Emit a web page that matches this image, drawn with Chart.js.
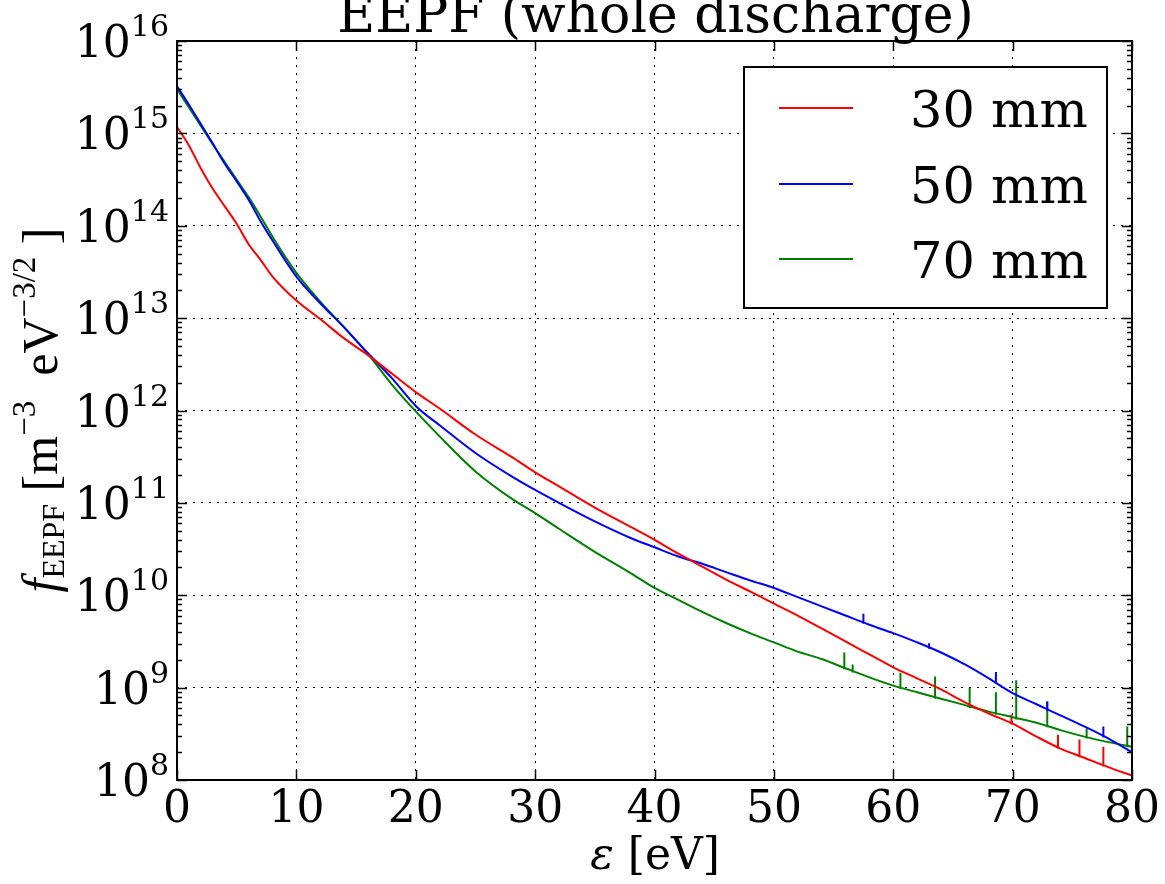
<!DOCTYPE html>
<html><head><meta charset="utf-8">
<script src="https://cdn.jsdelivr.net/npm/chart.js@4/dist/chart.umd.min.js"></script>
<style>html,body{margin:0;padding:0;background:#fff;}canvas{display:block;}</style>
</head><body>
<canvas id="c" width="1165" height="884"></canvas>
<script>
// ---- data ----
const energy = [0,1,2,3,4,5,6,7,8,10,12,14,16,18,20,22,25,28,30,32,35,38,40,42,44,46,48,50,52,54,56,58,60,62,64,66,68,70,72,74,76,78,80];
const f30mm = [1.17e15,7.41e14,4.17e14,2.51e14,1.62e14,1.05e14,6.31e13,4.27e13,2.82e13,1.55e13,9.77e12,6.03e12,3.98e12,2.51e12,1.58e12,1.05e12,5.50e11,3.16e11,2.14e11,1.51e11,8.91e10,5.50e10,3.98e10,2.82e10,2.04e10,1.48e10,1.10e10,8.13e9,6.03e9,4.37e9,3.16e9,2.29e9,1.66e9,1.26e9,9.55e8,6.92e8,5.25e8,4.07e8,2.95e8,2.19e8,1.74e8,1.38e8,1.12e8];
const f50mm = [3.24e15,2.04e15,1.26e15,7.76e14,4.68e14,3.02e14,1.91e14,1.12e14,6.92e13,2.82e13,1.45e13,7.94e12,4.17e12,2.24e12,1.12e12,6.92e11,3.47e11,1.95e11,1.38e11,1.00e11,6.31e10,4.17e10,3.31e10,2.63e10,2.19e10,1.78e10,1.45e10,1.20e10,9.55e9,7.59e9,6.03e9,4.79e9,3.89e9,3.09e9,2.40e9,1.78e9,1.26e9,8.71e8,6.61e8,5.01e8,3.80e8,2.82e8,2.00e8];
const f70mm = [3.02e15,1.91e15,1.20e15,7.59e14,4.90e14,3.16e14,2.04e14,1.26e14,7.59e13,3.09e13,1.51e13,7.94e12,4.07e12,1.91e12,9.77e11,5.25e11,2.19e11,1.12e11,7.76e10,5.25e10,2.95e10,1.74e10,1.20e10,8.91e9,6.61e9,5.01e9,3.89e9,3.09e9,2.45e9,2.04e9,1.62e9,1.29e9,1.05e9,8.91e8,7.59e8,6.46e8,5.50e8,4.79e8,4.17e8,3.47e8,2.95e8,2.57e8,2.29e8];

// narrow noise spikes visible in the picture: energy, peak value, foot value (on the curve)
const spikeE30 = [69.9,73.8,75.6,77.6];
const spikePeak30 = [5.13e8,3.09e8,2.75e8,2.29e8];
const spikeBase30 = [3.98e8,2.19e8,1.76e8,1.40e8];
const spikeE50 = [57.5,63.0,68.6,72.9,77.6];
const spikePeak50 = [6.31e9,3.02e9,1.48e9,7.08e8,3.80e8];
const spikeBase50 = [4.90e9,2.63e9,1.10e9,5.62e8,2.88e8];
const spikeE70 = [55.9,56.6,60.6,63.5,66.4,68.6,70.3,72.9,76.2,79.6];
const spikePeak70 = [2.40e9,1.78e9,1.45e9,1.32e9,1.00e9,8.91e8,1.20e9,7.08e8,3.63e8,3.80e8];
const spikeBase70 = [1.58e9,1.46e9,9.66e8,7.59e8,6.03e8,5.07e8,4.52e8,3.72e8,2.82e8,2.26e8];

const seriesLabels = ['30 mm','50 mm','70 mm'];
const seriesColors = ['#ff0000','#0000ff','#008000'];
const xTicks = [0,10,20,30,40,50,60,70,80];
const yDecades = [1e8,1e9,1e10,1e11,1e12,1e13,1e14,1e15,1e16];
const yExpLabels = ['8','9','10','11','12','13','14','15','16'];
const minorMult = [2,3,4,5,6,7,8,9];
const titleText = 'EEPF (whole discharge)';

const mainData = [f30mm, f50mm, f70mm].map(F => energy.map((e, i) => ({x: e, y: F[i]})));
// each spike is a short vertical segment; null breaks the line between spikes
function spikeData(sE, sP, sB) {
  const pts = [];
  sE.forEach((e, i) => { pts.push({x: e, y: sB[i]}, {x: e, y: sP[i]}, {x: e, y: null}); });
  return pts;
}
const spikeSets = [
  spikeData(spikeE30, spikePeak30, spikeBase30),
  spikeData(spikeE50, spikePeak50, spikeBase50),
  spikeData(spikeE70, spikePeak70, spikeBase70)
];

const SERIF = '"DejaVu Serif"';
const MATH = '"Liberation Serif"';

function line(ctx, x1, y1, x2, y2) { ctx.beginPath(); ctx.moveTo(x1, y1); ctx.lineTo(x2, y2); ctx.stroke(); }

function drawRich(ctx, segs, cx, by) {
  let total = 0;
  segs.forEach(s => { ctx.font = s.font; s.w = ctx.measureText(s.t).width; total += s.w; });
  let x = cx - total / 2;
  ctx.textAlign = 'left'; ctx.textBaseline = 'alphabetic';
  segs.forEach(s => { ctx.font = s.font; ctx.fillText(s.t, x, by + (s.dy || 0)); x += s.w; });
}

const decor = {
  id: 'decor',
  afterDraw(chart) {
    const {ctx, chartArea: a, scales: {x, y}} = chart;
    ctx.save();
    ctx.strokeStyle = '#000'; ctx.fillStyle = '#000';
    ctx.lineWidth = 1.5;
    yDecades.forEach((d, i) => {
      const py = Math.round(y.getPixelForValue(d)) + 0.5;
      line(ctx, a.left, py, a.left + 10, py); line(ctx, a.right, py, a.right - 10, py);
      if (i < yDecades.length - 1) {
        minorMult.forEach(m => {
          const q = Math.round(y.getPixelForValue(m * d)) + 0.5;
          line(ctx, a.left, q, a.left + 5, q); line(ctx, a.right, q, a.right - 5, q);
        });
      }
    });
    xTicks.forEach(v => {
      const px = Math.round(x.getPixelForValue(v)) + 0.5;
      line(ctx, px, a.bottom, px, a.bottom - 10); line(ctx, px, a.top, px, a.top + 10);
    });
    ctx.lineWidth = 2;
    ctx.strokeRect(a.left, a.top, a.right - a.left, a.bottom - a.top);

    yDecades.forEach((d, i) => {
      const py = y.getPixelForValue(d);
      ctx.textAlign = 'right'; ctx.textBaseline = 'alphabetic';
      ctx.font = '30px ' + SERIF;
      const sw = ctx.measureText(yExpLabels[i]).width;
      ctx.fillText(yExpLabels[i], 169, py - 5);
      ctx.font = '44px ' + SERIF;
      ctx.fillText('10', 169 - sw, py + 16);
    });

    ctx.font = '52px ' + SERIF; ctx.textAlign = 'center'; ctx.textBaseline = 'alphabetic';
    ctx.fillText(titleText, (a.left + a.right) / 2 + 1, 32);

    drawRich(ctx, [
      {t: 'ε', font: 'italic 44px ' + SERIF},
      {t: ' [eV]', font: '44px ' + SERIF}
    ], 655, 869);

    ctx.save();
    ctx.translate(57, 410);
    ctx.rotate(-Math.PI / 2);
    drawRich(ctx, [
      {t: 'f', font: 'italic 50px ' + MATH},
      {t: 'EEPF', font: '32px ' + MATH, dy: 7},
      {t: ' [m', font: '50px ' + MATH},
      {t: '−3', font: '33px ' + MATH, dy: -22},
      {t: '  eV', font: '50px ' + MATH},
      {t: '−3/2', font: '33px ' + MATH, dy: -22},
      {t: ' ]', font: '50px ' + MATH}
    ], 0, 0);
    ctx.restore();

    ctx.lineWidth = 2; ctx.strokeStyle = '#000';
    ctx.fillStyle = '#fff';
    ctx.fillRect(744, 67, 363, 241);
    ctx.strokeRect(744, 67, 363, 241);
    const rows = [108, 184, 259];
    seriesLabels.forEach((lab, i) => {
      ctx.strokeStyle = seriesColors[i]; ctx.lineWidth = 2;
      line(ctx, 779, rows[i], 853, rows[i]);
      ctx.fillStyle = '#000'; ctx.font = '51px ' + SERIF;
      ctx.textAlign = 'left'; ctx.textBaseline = 'alphabetic';
      ctx.fillText(lab, 910, rows[i] + 18.5);
    });
    ctx.restore();
  }
};

const datasets = [];
seriesLabels.forEach((lab, i) => {
  datasets.push({label: lab, data: mainData[i], borderColor: seriesColors[i], backgroundColor: seriesColors[i],
    borderWidth: 2, pointRadius: 0, cubicInterpolationMode: 'monotone', fill: false});
});
seriesLabels.forEach((lab, i) => {
  datasets.push({label: lab + ' spikes', data: spikeSets[i], borderColor: seriesColors[i], backgroundColor: seriesColors[i],
    borderWidth: 2, pointRadius: 0, tension: 0, spanGaps: false, fill: false});
});

new Chart(document.getElementById('c').getContext('2d'), {
  type: 'line',
  data: {datasets},
  options: {
    responsive: false, animation: false, devicePixelRatio: 1,
    layout: {padding: {left: 0, right: 33, top: 41, bottom: 0}},
    plugins: {legend: {display: false}, title: {display: false}, tooltip: {enabled: false}},
    scales: {
      x: {
        type: 'linear', min: 0, max: 80,
        afterBuildTicks: s => { s.ticks = xTicks.map(v => ({value: v})); },
        afterFit: s => { s.height = 104; },
        ticks: {font: {family: 'DejaVu Serif', size: 44}, color: '#000', padding: 4, maxRotation: 0, autoSkip: false},
        grid: {color: '#000', lineWidth: 1, drawTicks: false},
        border: {display: false, dash: [2, 6]}
      },
      y: {
        type: 'logarithmic', min: 1e8, max: 1e16,
        afterBuildTicks: s => { s.ticks = yDecades.map(v => ({value: v, major: true})); },
        afterFit: s => { s.width = 177; },
        ticks: {display: false},
        grid: {color: '#000', lineWidth: 1, drawTicks: false},
        border: {display: false, dash: [2, 6]}
      }
    }
  },
  plugins: [decor]
});
</script>
</body></html>
